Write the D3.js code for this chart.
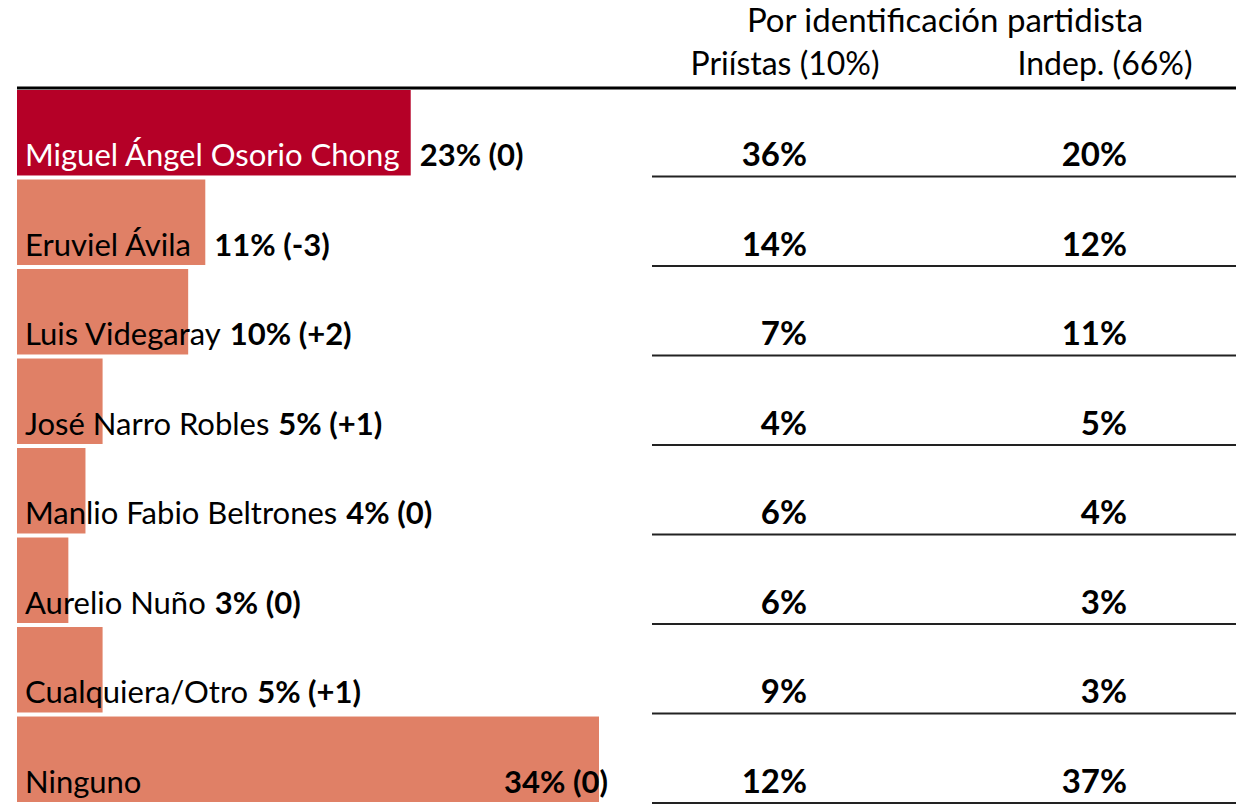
<!DOCTYPE html>
<html>
<head>
<meta charset="utf-8">
<script src="https://cdn.jsdelivr.net/npm/d3@7"></script>
<style>
  body { margin: 0; background: #fff; }
  text { font-family: Lato, "Open Sans", sans-serif; }
</style>
</head>
<body>
<svg width="1243" height="805"></svg>
<script>
const candidates = ["Miguel Ángel Osorio Chong", "Eruviel Ávila", "Luis Videgaray", "José Narro Robles",
    "Manlio Fabio Beltrones", "Aurelio Nuño", "Cualquiera/Otro", "Ninguno"];
const totals = [23, 11, 10, 5, 4, 3, 5, 34];
const changes = ["(0)", "(-3)", "(+2)", "(+1)", "(0)", "(0)", "(+1)", "(0)"];
const priistas = [36, 14, 7, 4, 6, 6, 9, 12];
const indep = [20, 12, 11, 5, 4, 3, 3, 37];
const groupTitle = "Por identificación partidista";
const columnLabels = ["Priístas (10%)", "Indep. (66%)"];

const svg = d3.select("svg");
const width = +svg.attr("width");

const margin = { top: 90, left: 17, right: 7 };
const rowStep = 89;

const rows = candidates.map((name, i) => ({
    name,
    total: totals[i],
    change: changes[i],
    pri: priistas[i],
    ind: indep[i]
}));

const x = d3.scaleLinear()
    .domain([0, 34])
    .range([0, 582]);

const y = d3.scaleBand()
    .domain(candidates)
    .range([margin.top, margin.top + rowStep * candidates.length])
    .paddingInner(4 / 89)
    .paddingOuter(0)
    .align(0);

const colX = d3.scalePoint()
    .domain(columnLabels)
    .range([807, 1127]);

const fontSize = 31;

// header
svg.append("text")
    .attr("x", 945)
    .attr("y", 32)
    .attr("text-anchor", "middle")
    .attr("font-size", 33)
    .text(groupTitle);

svg.selectAll(".col-label")
    .data(columnLabels)
    .enter()
    .append("text")
    .attr("class", "col-label")
    .attr("x", d => colX(d) - 22)
    .attr("y", 75)
    .attr("text-anchor", "middle")
    .attr("font-size", 32)
    .text(d => d);

svg.append("line")
    .attr("x1", margin.left)
    .attr("x2", width - margin.right)
    .attr("y1", 88)
    .attr("y2", 88)
    .attr("stroke", "#000")
    .attr("stroke-width", 3);

const g = svg.append("g").attr("transform", `translate(${margin.left},0)`);

g.selectAll(".bar")
    .data(rows)
    .enter()
    .append("rect")
    .attr("class", "bar")
    .attr("x", 0)
    .attr("y", d => y(d.name))
    .attr("width", d => x(d.total))
    .attr("height", y.bandwidth())
    .attr("fill", (d, i) => i === 0 ? "#b50027" : "#e08066");

const baseline = d => y(d.name) + y.bandwidth() - 9;

const names = g.selectAll(".name")
    .data(rows)
    .enter()
    .append("text")
    .attr("class", "name")
    .attr("x", 8)
    .attr("y", baseline)
    .attr("font-size", fontSize)
    .attr("fill", (d, i) => i === 0 ? "#fff" : "#000")
    .text(d => d.name);

names.each(function(d) {
    d.nameEnd = 8 + this.getComputedTextLength();
});

g.selectAll(".value")
    .data(rows)
    .enter()
    .append("text")
    .attr("class", "value")
    .attr("y", baseline)
    .attr("font-size", fontSize)
    .attr("font-weight", "bold")
    .text(d => `${d.total}% ${d.change}`)
    .each(function(d) {
        const t = d3.select(this);
        const barEnd = x(d.total);
        if (barEnd - d.nameEnd > 200) {
            t.attr("text-anchor", "end").attr("x", barEnd + 9);
        } else {
            t.attr("x", Math.max(barEnd, d.nameEnd) + 9);
        }
    });

// right columns
const cols = [
    { label: columnLabels[0], key: "pri" },
    { label: columnLabels[1], key: "ind" }
];

cols.forEach(c => {
    svg.selectAll(`.cell-${c.key}`)
        .data(rows)
        .enter()
        .append("text")
        .attr("x", colX(c.label))
        .attr("y", baseline)
        .attr("text-anchor", "end")
        .attr("font-size", 33)
        .attr("font-weight", "bold")
        .text(d => `${d[c.key]}%`);
});

svg.selectAll(".rule")
    .data(rows)
    .enter()
    .append("line")
    .attr("x1", 652)
    .attr("x2", width - margin.right)
    .attr("y1", d => y(d.name) + y.bandwidth() + 1)
    .attr("y2", d => y(d.name) + y.bandwidth() + 1)
    .attr("stroke", "#222")
    .attr("stroke-width", 2);
</script>
</body>
</html>
